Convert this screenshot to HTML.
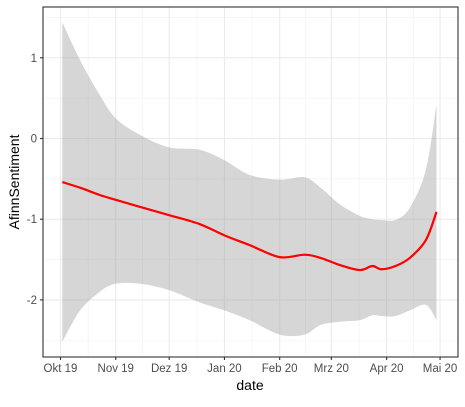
<!DOCTYPE html>
<html><head><meta charset="utf-8"><style>
body{margin:0;background:#fff;font-family:"Liberation Sans",Arial,sans-serif}
</style></head><body>
<svg width="465" height="402" xmlns="http://www.w3.org/2000/svg">
<rect width="465" height="402" fill="#fff"/>
<g id="grid"></g>
<g id="band"></g>
<g id="line"></g>
<rect x="43" y="7" width="415" height="350" fill="none" stroke="#333" stroke-width="1.1"/>
<g id="axes"></g>
<text x="250" y="390" text-anchor="middle" font-size="14" fill="#000">date</text>
<text transform="translate(19,182) rotate(-90)" text-anchor="middle" font-size="14" fill="#000">AfinnSentiment</text>
</svg>
<script>
const days=[1,11,22,31,45,61,78,92,106,123,137,146,157,168,175,180,188,196,205,211];
const meanVals=[-0.54,-0.61,-0.70,-0.76,-0.85,-0.95,-1.06,-1.20,-1.32,-1.47,-1.44,-1.48,-1.57,-1.63,-1.58,-1.62,-1.58,-1.48,-1.26,-0.91];
const upperVals=[1.44,0.97,0.54,0.25,0.04,-0.11,-0.14,-0.27,-0.45,-0.51,-0.48,-0.61,-0.82,-0.96,-1.0,-1.01,-1.01,-0.86,-0.39,0.42];
const lowerVals=[-2.52,-2.13,-1.90,-1.80,-1.80,-1.88,-2.03,-2.13,-2.25,-2.43,-2.43,-2.31,-2.27,-2.25,-2.19,-2.20,-2.20,-2.13,-2.06,-2.25];
const xTickLabels=["Okt 19","Nov 19","Dez 19","Jan 20","Feb 20","Mrz 20","Apr 20","Mai 20"];
const xTickDays=[0,31,61,92,123,152,183,213];
const yTicks=[-2,-1,0,1];
const NS="http://www.w3.org/2000/svg";
const X=d=>60.5+d*1.782;
const Y=v=>138.5-v*80.7;
function mk(t,a,p){const e=document.createElementNS(NS,t);for(const k in a)e.setAttribute(k,a[k]);p.appendChild(e);return e;}
function spline(P,start){let s=start?'M'+P[0][0]+','+P[0][1]:'L'+P[0][0]+','+P[0][1];
for(let i=0;i<P.length-1;i++){const p0=P[Math.max(0,i-1)],p1=P[i],p2=P[i+1],p3=P[Math.min(P.length-1,i+2)];
const c1=[p1[0]+(p2[0]-p0[0])/6,p1[1]+(p2[1]-p0[1])/6],c2=[p2[0]-(p3[0]-p1[0])/6,p2[1]-(p3[1]-p1[1])/6];
s+=' C'+c1+' '+c2+' '+p2;}return s;}
const grid=document.getElementById('grid');
for(let v=-2.5;v<=1.5;v+=1){const l=mk('line',{x1:43,x2:458,y1:Y(v),y2:Y(v),stroke:'#f0f0f0','stroke-width':0.6},grid);

}
for(let i=0;i<xTickDays.length-1;i++){const m=(xTickDays[i]+xTickDays[i+1])/2;const l=mk('line',{x1:X(m),x2:X(m),y1:7,y2:357,stroke:'#f0f0f0','stroke-width':0.6},grid);

}
yTicks.forEach(v=>{const l=mk('line',{x1:43,x2:458,y1:Y(v),y2:Y(v),stroke:'#ebebeb','stroke-width':1.1},grid);

});
xTickDays.forEach(d=>{const l=mk('line',{x1:X(d),x2:X(d),y1:7,y2:357,stroke:'#ebebeb','stroke-width':1.1},grid);

});
const up=days.map((d,i)=>[X(d),Y(upperVals[i])]);
const lo=days.map((d,i)=>[X(d),Y(lowerVals[i])]).reverse();
const b=mk('path',{d:spline(up,true)+' '+spline(lo,false)+' Z',fill:'#999','fill-opacity':0.4},document.getElementById('band'));


const mp=days.map((d,i)=>[X(d),Y(meanVals[i])]);
const ln=mk('path',{d:spline(mp,true),fill:'none',stroke:'#ff0000','stroke-width':2.2,'stroke-linejoin':'round'},document.getElementById('line'));


const ax=document.getElementById('axes');
yTicks.forEach(v=>{mk('line',{x1:40,x2:43,y1:Y(v),y2:Y(v),stroke:'#333','stroke-width':1.1},ax);
const t=mk('text',{x:37,y:Y(v)+4,'text-anchor':'end','font-size':11.5,fill:'#4d4d4d'},ax);t.textContent=v;

});
xTickDays.forEach((d,i)=>{mk('line',{x1:X(d),x2:X(d),y1:357,y2:360,stroke:'#333','stroke-width':1.1},ax);
const t=mk('text',{x:X(d),y:372,'text-anchor':'middle','font-size':11.5,fill:'#4d4d4d'},ax);t.textContent=xTickLabels[i];

});
</script>
</body></html>
